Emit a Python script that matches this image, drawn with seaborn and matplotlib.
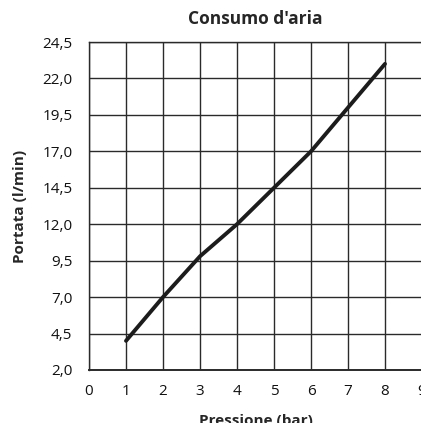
import matplotlib
matplotlib.use("Agg")
import matplotlib.pyplot as plt
import seaborn as sns
import pandas as pd
from matplotlib.ticker import FuncFormatter

# dati
pressione = [1, 2, 3, 4, 5, 6, 7, 8]
portata = [4.0, 7.0, 9.8, 12.0, 14.5, 17.0, 20.0, 23.0]
x_ticks = [0, 1, 2, 3, 4, 5, 6, 7, 8, 9]
y_ticks = [2.0, 4.5, 7.0, 9.5, 12.0, 14.5, 17.0, 19.5, 22.0, 24.5]

sns.set_style("white")
plt.rcParams["font.family"] = ["Open Sans", "DejaVu Sans"]

df = pd.DataFrame({"Pressione": pressione, "Portata": portata})

fig = plt.figure(figsize=(4.21, 4.23), dpi=100)
ax = fig.add_axes([0.2114, 0.1253, 0.791, 0.7754])

sns.lineplot(data=df, x="Pressione", y="Portata", ax=ax, color="#1c1c1c", linewidth=2.8)

ax.set_xlim(0, 9)
ax.set_ylim(2.0, 24.5)
ax.set_xticks(x_ticks)
ax.set_yticks(y_ticks)
ax.yaxis.set_major_formatter(FuncFormatter(lambda v, p: f"{v:.1f}".replace(".", ",")))
ax.grid(True, color="#2a2a2a", linewidth=1.0)
ax.set_axisbelow(True)
ax.tick_params(axis="both", length=0, labelsize=11, colors="#111111")
ax.tick_params(axis="x", pad=10)
ax.tick_params(axis="y", pad=12)
for s in ax.spines.values():
    s.set_color("#2a2a2a")
    s.set_linewidth(1.0)
ax.spines["bottom"].set_linewidth(1.4)

ax.set_title("Consumo d'aria", fontsize=12.5, fontweight="bold", pad=13)
ax.set_xlabel("Pressione (bar)", fontsize=11, fontweight="bold", labelpad=11)
ax.set_ylabel("Portata (l/min)", fontsize=11, fontweight="bold", labelpad=11)

fig.savefig("out.png", dpi=100)
